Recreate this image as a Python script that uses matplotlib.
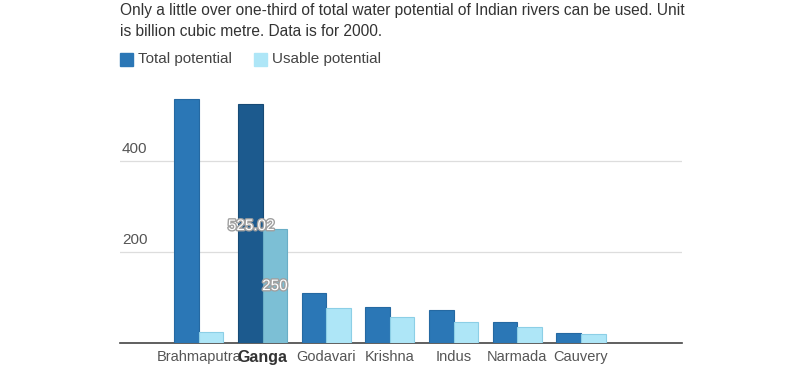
import matplotlib
matplotlib.use('agg')
from matplotlib import pyplot as plt
import matplotlib.patheffects as pe
import numpy as np

plt.rcParams['font.family'] = ['Liberation Sans', 'DejaVu Sans']

rivers = ["Brahmaputra", "Ganga", "Godavari", "Krishna", "Indus", "Narmada", "Cauvery"]
total = [537.24, 525.02, 110.54, 78.12, 73.31, 45.64, 21.36]
usable = [24.0, 250.0, 76.3, 58.0, 46.0, 34.5, 19.0]
yticks = [200, 400]
highlight = "Ganga"

TOTAL_C = "#2b77b6"
USABLE_C = "#aee6f7"
TOTAL_HI = "#1c5a8e"
USABLE_HI = "#7cbfd5"

fig = plt.figure(figsize=(8, 3.8), dpi=100)
ax = fig.add_axes([0.15, 1 - 343 / 380, 0.702, (343 - 90) / 380])

x = np.arange(len(rivers))
w = 0.385
for i, r in enumerate(rivers):
    hi = r == highlight
    ax.bar(x[i] - w / 2, total[i], w, color=TOTAL_HI if hi else TOTAL_C,
           edgecolor="#174a75" if hi else "#2569a2", linewidth=0.8, zorder=3)
    ax.bar(x[i] + w / 2, usable[i], w, color=USABLE_HI if hi else USABLE_C,
           edgecolor="#6aaec6" if hi else "#8ccfe6", linewidth=0.8, zorder=3)

# hover-style value labels on the highlighted group
gi = rivers.index(highlight)
outline = [pe.withStroke(linewidth=2, foreground="#a0a0a0")]
ax.text(x[gi] - 0.18, total[gi] - 268, f"{total[gi]}", ha="center", va="center",
        color="white", fontsize=11, path_effects=outline, zorder=5)
ax.text(x[gi] + w / 2, usable[gi] - 125, f"{usable[gi]:g}", ha="center", va="center",
        color="white", fontsize=11, path_effects=outline, zorder=5)

ax.set_xlim(-1.24, 7.58)
ax.set_ylim(0, 556)
ax.set_yticks(yticks)
ax.set_yticklabels([])
ax.tick_params(axis="y", length=0)
for t in yticks:
    ax.axhline(t, color="#dddddd", linewidth=0.9, zorder=1)
    ax.text(-1.21, t + 12, str(t), ha="left", va="bottom", fontsize=11, color="#555555")

ax.set_xticks(x)
ax.set_xticklabels(rivers, fontsize=10.5, color="#555555")
for lbl in ax.get_xticklabels():
    if lbl.get_text() == highlight:
        lbl.set_fontweight("bold")
        lbl.set_fontsize(11.5)
        lbl.set_color("#333333")
ax.tick_params(axis="x", length=0, pad=5)

for s in ["top", "right", "left"]:
    ax.spines[s].set_visible(False)
ax.spines["bottom"].set_color("#444444")
ax.spines["bottom"].set_linewidth(1.2)

fig.text(120 / 800, 1 - 3 / 380,
         "Only a little over one-third of total water potential of Indian rivers can be used. Unit\n"
         "is billion cubic metre. Data is for 2000.",
         ha="left", va="top", fontsize=11.2, color="#333333", linespacing=1.5)

# legend
for lx, c, label in [(120, TOTAL_C, "Total potential"), (254, USABLE_C, "Usable potential")]:
    fig.patches.append(plt.Rectangle((lx / 800, 1 - 66 / 380), 13 / 800, 13 / 380,
                                     transform=fig.transFigure, color=c, figure=fig))
    fig.text((lx + 18) / 800, 1 - 59.5 / 380, label, ha="left", va="center",
             fontsize=11, color="#444444")

fig.savefig("out.png", dpi=100)
plt.close(fig)
